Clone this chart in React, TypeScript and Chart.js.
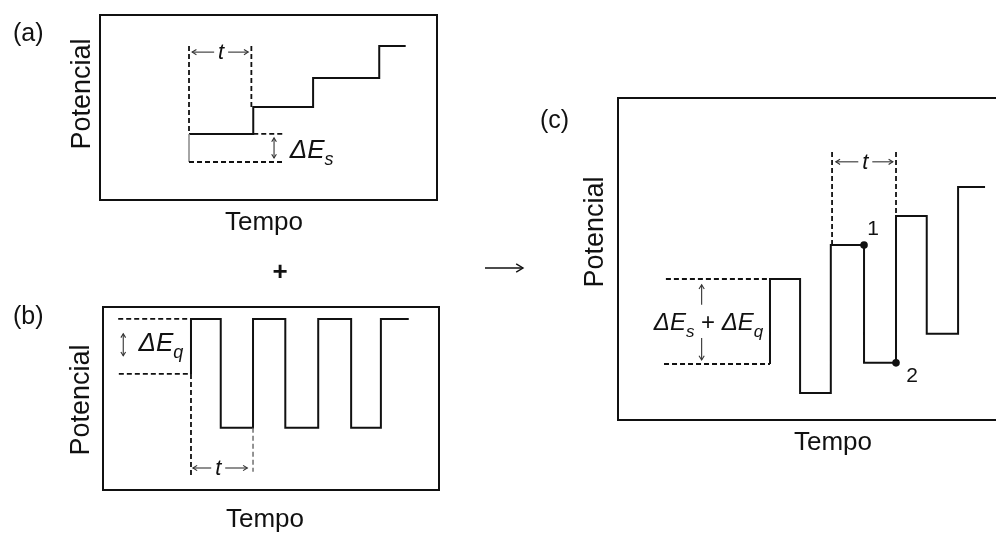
import React, { useEffect, useRef } from "react";
import { Chart, registerables } from "chart.js";

Chart.register(...registerables);

const FONT = '"Liberation Sans", Arial, Helvetica, sans-serif';
const INK = "#111";
const ARROW = "#333";

// ---- (a) staircase ramp: time in pulse periods, potential in step units
const stairTimes = [0, 1.02, 1.97, 3.02, 3.44];
const stairLevels = [2.28, 3.21, 4.21, 5.31, 5.31];
const stairStart = 1.31;

// ---- (b) square-wave train
const squareTimes = [0, 0, 0.47, 0.98, 1.49, 2.01, 2.53, 3.0, 3.44];
const squareLevels = [2.11, 3.11, 1.13, 3.11, 1.13, 3.11, 1.13, 3.11, 3.11];

// ---- (c) square wave superimposed on the staircase
const swvTimes = [0, 0, 0.48, 0.97, 1.5, 2.01, 2.5, 3.0, 3.43];
const swvLevels = [1.93, 4.86, 0.93, 6.03, 1.97, 7.03, 2.97, 8.03, 8.03];
const sampleTimes = [1.5, 2.01];
const sampleLevels = [6.03, 1.97];
const sampleLabels = ["1", "2"];

const axisTitleX = "Tempo";
const axisTitleY = "Potencial";
const panelTags = ["(a)", "(b)", "(c)"];

// axis ranges of the three panels
const rangeA = { x: [-1.413, 3.937], y: [0, 6.38] };
const rangeB = { x: [-1.39, 3.918], y: [0, 3.327] };
const rangeC = { x: [-2.424, 3.828], y: [0, 11.1] };

const toPoints = (ts: number[], vs: number[]) => ts.map((t, i) => ({ x: t, y: vs[i] }));

type Ctx = CanvasRenderingContext2D;
type Area = { left: number; right: number; top: number; bottom: number };
type Deco = (ctx: Ctx, px: (t: number) => number, py: (v: number) => number, area: Area, chart: any) => void;

function seg(ctx: Ctx, x1: number, y1: number, x2: number, y2: number) {
  ctx.beginPath();
  ctx.moveTo(x1, y1);
  ctx.lineTo(x2, y2);
  ctx.stroke();
}

function dashed(ctx: Ctx, x1: number, y1: number, x2: number, y2: number, color = INK, width = 1.8) {
  ctx.save();
  ctx.setLineDash([5, 3]);
  ctx.strokeStyle = color;
  ctx.lineWidth = width;
  seg(ctx, x1, y1, x2, y2);
  ctx.restore();
}

function chevron(ctx: Ctx, x: number, y: number, a: number, len: number) {
  const s = 0.55;
  ctx.beginPath();
  ctx.moveTo(x - len * Math.cos(a - s), y - len * Math.sin(a - s));
  ctx.lineTo(x, y);
  ctx.lineTo(x - len * Math.cos(a + s), y - len * Math.sin(a + s));
  ctx.stroke();
}

function arrow(ctx: Ctx, x1: number, y1: number, x2: number, y2: number, startHead: boolean, endHead: boolean, width = 1.1, head = 5) {
  ctx.save();
  ctx.strokeStyle = ARROW;
  ctx.lineWidth = width;
  seg(ctx, x1, y1, x2, y2);
  const a = Math.atan2(y2 - y1, x2 - x1);
  if (endHead) chevron(ctx, x2, y2, a, head);
  if (startHead) chevron(ctx, x1, y1, a + Math.PI, head);
  ctx.restore();
}

// "<- t ->" period marker
function periodMarker(ctx: Ctx, x1: number, x2: number, tx: number, y: number) {
  arrow(ctx, tx - 7, y, x1, y, false, true);
  arrow(ctx, tx + 7, y, x2, y, false, true);
  ctx.save();
  ctx.fillStyle = INK;
  ctx.font = `italic 22px ${FONT}`;
  ctx.textAlign = "center";
  ctx.textBaseline = "alphabetic";
  ctx.fillText("t", tx, y + 7);
  ctx.restore();
}

type Run = { s: string; sub?: boolean; upright?: boolean };
function richText(ctx: Ctx, runs: Run[], x: number, baseline: number, size: number, align: "left" | "center") {
  const subSize = Math.round(size * 0.7);
  const fontFor = (r: Run) => `${r.upright ? "" : "italic "}${r.sub ? subSize : size}px ${FONT}`;
  ctx.save();
  ctx.fillStyle = INK;
  ctx.textAlign = "left";
  ctx.textBaseline = "alphabetic";
  let total = 0;
  runs.forEach((r) => {
    ctx.font = fontFor(r);
    total += ctx.measureText(r.s).width;
  });
  let cx = align === "center" ? x - total / 2 : x;
  runs.forEach((r) => {
    ctx.font = fontFor(r);
    ctx.fillText(r.s, cx, baseline + (r.sub ? size * 0.28 : 0));
    cx += ctx.measureText(r.s).width;
  });
  ctx.restore();
}

function plainText(ctx: Ctx, s: string, x: number, y: number, font: string, align: CanvasTextAlign = "center") {
  ctx.save();
  ctx.fillStyle = INK;
  ctx.font = font;
  ctx.textAlign = align;
  ctx.textBaseline = "alphabetic";
  ctx.fillText(s, x, y);
  ctx.restore();
}

function verticalTitle(ctx: Ctx, s: string, baselineX: number, centerY: number) {
  ctx.save();
  ctx.translate(baselineX, centerY);
  ctx.rotate(-Math.PI / 2);
  ctx.fillStyle = INK;
  ctx.font = `27px ${FONT}`;
  ctx.textAlign = "center";
  ctx.textBaseline = "alphabetic";
  ctx.fillText(s, 0, 0);
  ctx.restore();
}

function frame(ctx: Ctx, area: Area) {
  ctx.save();
  ctx.strokeStyle = INK;
  ctx.lineWidth = 2;
  ctx.strokeRect(area.left, area.top, area.right - area.left, area.bottom - area.top);
  ctx.restore();
}

type PanelProps = {
  left: number;
  top: number;
  width: number;
  height: number;
  padding: { left: number; top: number; right: number; bottom: number };
  range: { x: number[]; y: number[] };
  datasets: any[];
  decorate: Deco;
};

function Panel({ left, top, width, height, padding, range, datasets, decorate }: PanelProps) {
  const ref = useRef<HTMLCanvasElement>(null);
  useEffect(() => {
    const chart = new Chart(ref.current!, {
      type: "line",
      data: { datasets },
      options: {
        responsive: false,
        animation: false,
        devicePixelRatio: 1,
        events: [],
        layout: { padding },
        plugins: { legend: { display: false }, tooltip: { enabled: false } },
        scales: {
          x: { type: "linear", min: range.x[0], max: range.x[1], display: false },
          y: { type: "linear", min: range.y[0], max: range.y[1], display: false },
        },
      },
      plugins: [
        {
          id: "panelDecor",
          afterDraw(c: any) {
            const ctx = c.ctx as Ctx;
            const xs = c.scales.x;
            const ys = c.scales.y;
            frame(ctx, c.chartArea);
            decorate(ctx, (t) => xs.getPixelForValue(t), (v) => ys.getPixelForValue(v), c.chartArea, c);
          },
        },
      ],
    } as any);
    return () => chart.destroy();
  }, []);
  return <canvas ref={ref} width={width} height={height} style={{ position: "absolute", left, top, width, height }} />;
}

const lineStyle = {
  borderColor: INK,
  borderWidth: 2,
  pointRadius: 0,
  stepped: "before",
  fill: false,
  borderJoinStyle: "miter",
  borderCapStyle: "butt",
};

const decorA: Deco = (ctx, px, py, area) => {
  const x0 = px(0);
  const x1 = px(0.99);
  const xr = px(1.49);
  dashed(ctx, x0, py(stairLevels[3]), x0, py(stairLevels[0]));
  dashed(ctx, x1, py(stairLevels[3]), x1, py(stairLevels[1]));
  dashed(ctx, px(stairTimes[1]), py(stairLevels[0]), xr, py(stairLevels[0]));
  dashed(ctx, x0, py(stairStart), xr, py(stairStart));
  arrow(ctx, px(1.35), py(stairLevels[0]) + 4, px(1.35), py(stairStart) - 4, true, true, 1.1, 4.5);
  richText(ctx, [{ s: "ΔE" }, { s: "s", sub: true }], px(1.6), py(1.45), 26, "left");
  periodMarker(ctx, px(0.05), px(0.94), px(0.51), py(5.1));
  plainText(ctx, axisTitleX, 264, area.bottom + 30, `26px ${FONT}`);
  verticalTitle(ctx, axisTitleY, area.left - 10, 94);
  plainText(ctx, panelTags[0], 13, 41, `25px ${FONT}`, "left");
};

const decorB: Deco = (ctx, px, py, area) => {
  const x0 = px(0);
  dashed(ctx, px(-1.15), py(3.11), x0, py(3.11));
  dashed(ctx, px(-1.14), py(2.11), x0, py(2.11));
  dashed(ctx, x0, py(2.11), x0, py(0.27));
  dashed(ctx, px(0.98), py(1.13), px(0.98), py(0.33), "#666", 1.4);
  arrow(ctx, px(-1.07), py(2.84), px(-1.07), py(2.44), true, true, 1.1, 4.5);
  richText(ctx, [{ s: "ΔE" }, { s: "q", sub: true }], px(-0.83), py(2.53), 26, "left");
  periodMarker(ctx, px(0.03), px(0.89), px(0.43), py(0.4));
  plainText(ctx, "+", 280, 40, `bold 26px ${FONT}`);
  plainText(ctx, axisTitleX, 265, area.bottom + 37, `26px ${FONT}`);
  verticalTitle(ctx, axisTitleY, area.left - 14, 160);
  plainText(ctx, panelTags[1], 13, 84, `25px ${FONT}`, "left");
};

const decorC: Deco = (ctx, px, py, area) => {
  const x0 = px(0);
  dashed(ctx, px(-1.66), py(swvLevels[1]), x0, py(swvLevels[1]));
  dashed(ctx, px(-1.69), py(swvLevels[0]), x0, py(swvLevels[0]));
  dashed(ctx, px(0.99), py(9.24), px(0.99), py(swvLevels[3]));
  dashed(ctx, px(2.01), py(9.24), px(2.01), py(swvLevels[5]));
  periodMarker(ctx, px(1.05), px(1.96), px(1.52), py(8.9));
  arrow(ctx, px(-1.09), py(3.97), px(-1.09), py(4.66), false, true, 1.1, 5);
  arrow(ctx, px(-1.09), py(2.83), px(-1.09), py(2.07), false, true, 1.1, 5);
  richText(
    ctx,
    [{ s: "ΔE" }, { s: "s", sub: true }, { s: " + ", upright: true }, { s: "ΔE" }, { s: "q", sub: true }],
    px(-0.98),
    py(3.1),
    24,
    "center"
  );
  // labels of the two sampling points
  plainText(ctx, sampleLabels[0], px(sampleTimes[0]) + 9, py(sampleLevels[0]) - 10, `21px ${FONT}`);
  plainText(ctx, sampleLabels[1], px(sampleTimes[1]) + 16, py(sampleLevels[1]) + 19, `21px ${FONT}`);
  // arrow leading from (a)+(b) to (c)
  ctx.save();
  ctx.strokeStyle = INK;
  ctx.lineWidth = 1.4;
  seg(ctx, 5, 208, 43, 208);
  chevron(ctx, 43, 208, 0, 8);
  ctx.restore();
  plainText(ctx, axisTitleX, 353, area.bottom + 30, `26px ${FONT}`);
  verticalTitle(ctx, axisTitleY, area.left - 15, 172);
  plainText(ctx, panelTags[2], 60, 68, `25px ${FONT}`, "left");
};

export default function App() {
  const dsA = [
    { ...lineStyle, data: toPoints([0, 0], [stairStart, stairLevels[0]]), borderColor: "#888", borderWidth: 1.5 },
    { ...lineStyle, data: toPoints(stairTimes, stairLevels) },
  ];
  const dsB = [{ ...lineStyle, data: toPoints(squareTimes, squareLevels) }];
  const dsC = [
    { ...lineStyle, data: toPoints(swvTimes, swvLevels) },
    {
      data: toPoints(sampleTimes, sampleLevels),
      showLine: false,
      pointRadius: 3.8,
      pointBackgroundColor: INK,
      pointBorderWidth: 0,
    },
  ];
  return (
    <div style={{ position: "absolute", left: 0, top: 0, width: 996, height: 535, overflow: "hidden", background: "#fff" }}>
      <Panel left={0} top={0} width={450} height={240} padding={{ left: 100, top: 15, right: 13, bottom: 40 }} range={rangeA} datasets={dsA} decorate={decorA} />
      <Panel left={0} top={240} width={450} height={295} padding={{ left: 103, top: 67, right: 11, bottom: 45 }} range={rangeB} datasets={dsB} decorate={decorB} />
      <Panel left={480} top={60} width={540} height={400} padding={{ left: 138, top: 38, right: 10, bottom: 40 }} range={rangeC} datasets={dsC} decorate={decorC} />
    </div>
  );
}
